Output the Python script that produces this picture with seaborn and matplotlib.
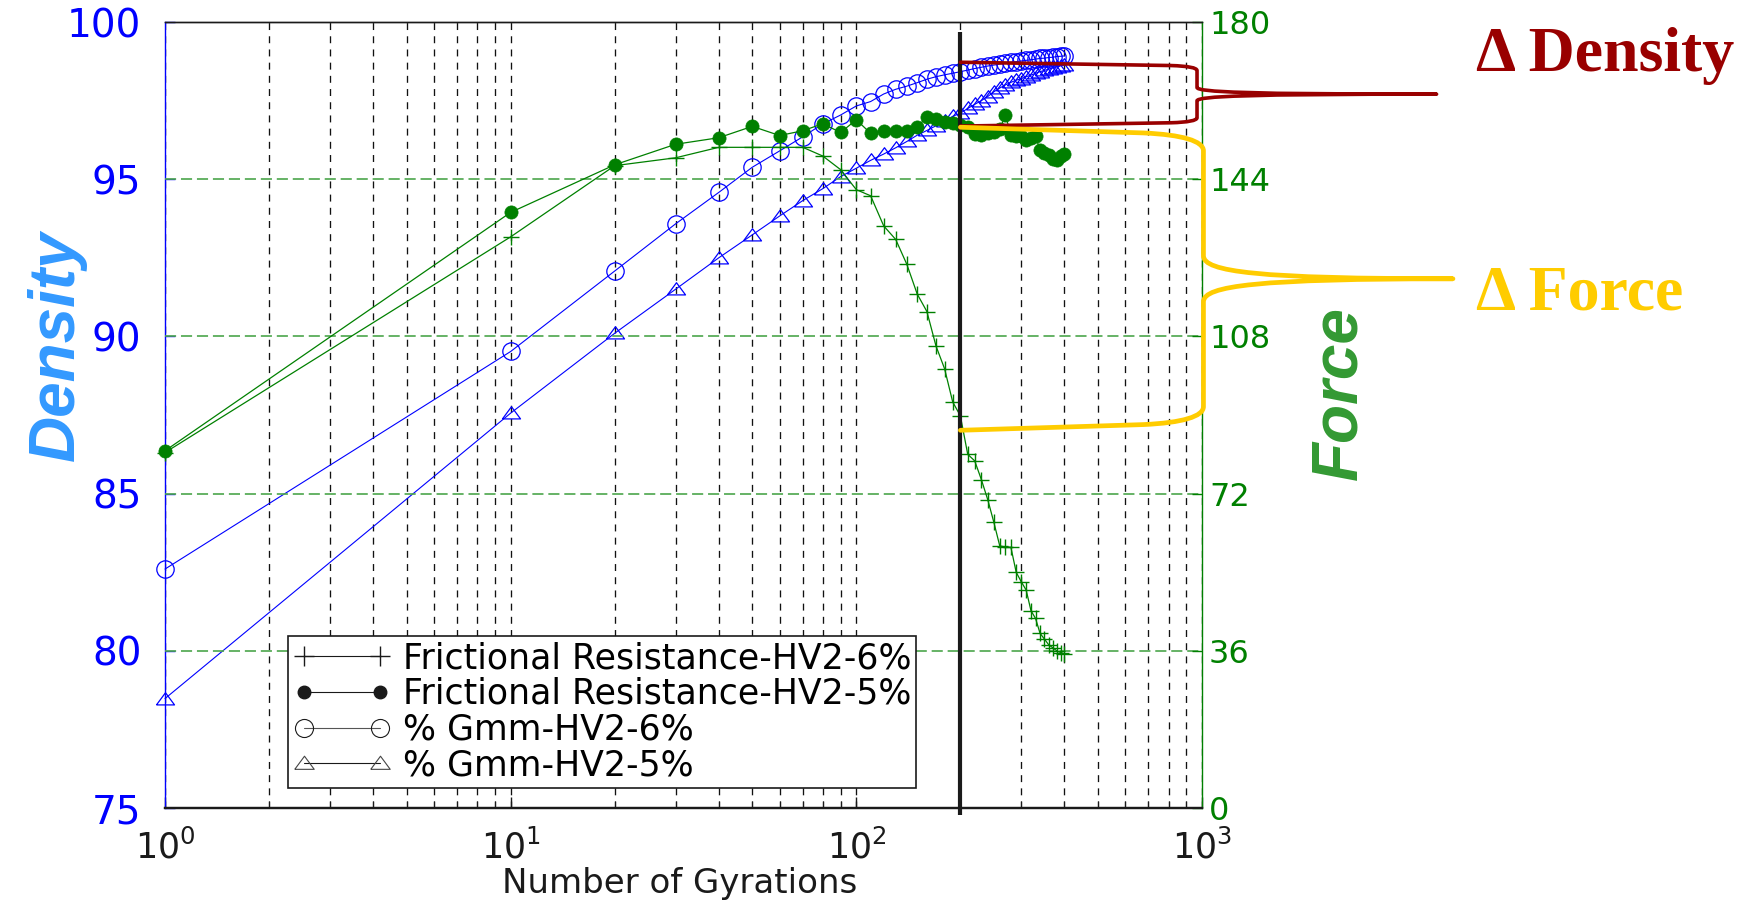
import matplotlib
matplotlib.use("Agg")
import numpy as np
import pandas as pd
import matplotlib.pyplot as plt
import seaborn as sns
from matplotlib.lines import Line2D
from matplotlib.path import Path
from matplotlib.patches import PathPatch
from matplotlib.ticker import FixedLocator, FuncFormatter, LogLocator, NullFormatter

# ---------------------------------------------------------------- data
gyrations = [1, 10, 20, 30, 40, 50, 60, 70, 80, 90, 100,
             110, 120, 130, 140, 150, 160, 170, 180, 190, 200,
             210, 220, 230, 240, 250, 260, 270, 280, 290, 300,
             310, 320, 330, 340, 350, 360, 370, 380, 390, 400]

# frictional resistance (force axis)
force_hv2_6 = [81.4, 130.8, 147.1, 148.9, 151.3, 151.3, 151.3, 151.3, 149.3, 146.2, 141.6,
               140.2, 133.3, 130.2, 124.5, 117.7, 113.7, 105.8, 100.6, 93.0, 89.8,
               81.0, 79.5, 75.2, 70.6, 65.4, 60.0, 59.8, 59.7, 54.0, 51.8,
               49.9, 45.2, 43.4, 40.0, 38.7, 37.4, 36.7, 36.0, 35.6, 35.3]
force_hv2_5 = [81.8, 136.4, 147.3, 152.0, 153.5, 156.1, 154.0, 155.1, 156.7, 154.7, 157.6,
               154.5, 155.1, 155.1, 155.1, 156.0, 158.2, 157.7, 157.2, 156.8, 156.4,
               155.9, 154.4, 154.2, 154.5, 154.9, 155.4, 158.7, 154.1, 153.8, 154.0,
               153.0, 153.4, 153.8, 150.7, 150.0, 149.5, 148.7, 148.4, 149.2, 149.7]

# % Gmm (density axis)
gmm_hv2_6 = [82.60, 89.52, 92.08, 93.58, 94.58, 95.38, 95.90, 96.35, 96.76, 97.04, 97.33,
             97.47, 97.71, 97.86, 97.96, 98.07, 98.18, 98.26, 98.32, 98.37, 98.42,
             98.47, 98.52, 98.56, 98.60, 98.63, 98.66, 98.69, 98.72, 98.74, 98.76,
             98.78, 98.80, 98.82, 98.84, 98.85, 98.87, 98.88, 98.90, 98.91, 98.92]
gmm_hv2_5 = [78.48, 87.56, 90.10, 91.50, 92.50, 93.23, 93.83, 94.32, 94.70, 95.08, 95.35,
             95.60, 95.80, 96.00, 96.20, 96.40, 96.55, 96.70, 96.85, 97.00, 97.10,
             97.25, 97.38, 97.50, 97.63, 97.78, 97.90, 98.00, 98.08, 98.15, 98.20,
             98.26, 98.31, 98.37, 98.42, 98.46, 98.50, 98.54, 98.58, 98.61, 98.64]

series_labels = ["Frictional Resistance-HV2-6%", "Frictional Resistance-HV2-5%",
                 "% Gmm-HV2-6%", "% Gmm-HV2-5%"]

density_ticks = [75, 80, 85, 90, 95, 100]
force_ticks = [0, 36, 72, 108, 144, 180]
gyration_ticks = [1, 10, 100, 1000]

reference_gyration = 200
reference_line_span = [74.78, 99.69]      # density units
delta_density = [96.69, 98.72]            # density units
delta_force = [86.5, 155.9]               # force units

df = pd.DataFrame({"gyrations": gyrations,
                   "fr6": force_hv2_6, "fr5": force_hv2_5,
                   "gmm6": gmm_hv2_6, "gmm5": gmm_hv2_5})

# ---------------------------------------------------------------- style
sns.set_theme(style="white")
plt.rcParams["font.family"] = ["DejaVu Sans"]
plt.rcParams["mathtext.default"] = "regular"
plt.rcParams["lines.scale_dashes"] = False
plt.rcParams["text.color"] = "black"
plt.rcParams["axes.labelcolor"] = "black"

GREEN = "#008000"
BLUE = "#0000FF"
tri = [(-1.0, -0.6), (1.0, -0.6), (0.0, 0.75), (-1.0, -0.6)]

fig = plt.figure(figsize=(17.5, 9), dpi=100)
ax = fig.add_axes([165 / 1750, 1 - 808 / 900, 1037 / 1750, 786 / 900])
ax.set_xscale("log")
ax2 = ax.twinx()

# density series
sns.lineplot(data=df, x="gyrations", y="gmm6", ax=ax, color=BLUE, lw=0.8,
             marker="o", markersize=12.5, markerfacecolor="none",
             markeredgecolor=BLUE, markeredgewidth=0.9,
             estimator=None, sort=False, legend=False, clip_on=False)
sns.lineplot(data=df, x="gyrations", y="gmm5", ax=ax, color=BLUE, lw=0.8,
             marker=tri, markersize=13, markerfacecolor="none",
             markeredgecolor=BLUE, markeredgewidth=0.9,
             estimator=None, sort=False, legend=False, clip_on=False)

# force series
sns.lineplot(data=df, x="gyrations", y="fr6", ax=ax2, color=GREEN, lw=0.9,
             marker="+", markersize=11, markeredgecolor=GREEN, markeredgewidth=1.0,
             estimator=None, sort=False, legend=False, clip_on=False)
sns.lineplot(data=df, x="gyrations", y="fr5", ax=ax2, color=GREEN, lw=0.9,
             marker="o", markersize=9.5, markerfacecolor=GREEN,
             markeredgecolor=GREEN, markeredgewidth=0.5,
             estimator=None, sort=False, legend=False, clip_on=False)

# ---------------------------------------------------------------- axes
ax.set_xlim(1, 1000)
ax.set_ylim(75, 100)
ax2.set_ylim(0, 180)
ax.set_yticks(density_ticks)
ax2.set_yticks(force_ticks)
ax.xaxis.set_major_locator(FixedLocator(gyration_ticks))
ax.xaxis.set_major_formatter(FuncFormatter(lambda v, p: r"$10^{%d}$" % round(np.log10(v))))
ax.xaxis.set_minor_locator(LogLocator(base=10, subs=range(2, 10)))
ax.xaxis.set_minor_formatter(NullFormatter())

ax.tick_params(axis="x", which="both", bottom=True, top=False, direction="in",
               colors="k", labelsize=25, pad=15)
ax.tick_params(axis="x", which="major", length=8, width=1)
ax.tick_params(axis="x", which="minor", length=5, width=0.8)
ax.tick_params(axis="y", left=True, right=False, direction="in", length=7, width=1,
               colors=BLUE, labelsize=28, pad=17)
ax2.tick_params(axis="y", right=True, left=False, direction="in", length=7, width=1,
                colors=GREEN, labelsize=23, pad=5)

ax.grid(True, which="both", axis="x", color="#111111", lw=0.95, ls=(0, (5, 4.5)))
ax.grid(False, axis="y")
ax2.grid(True, axis="y", color="#4CA64C", lw=1.2, ls=(0, (8, 3.5)))
ax2.grid(False, axis="x")

for a in (ax, ax2):
    for s in a.spines.values():
        s.set_linewidth(1.0)
ax.spines["left"].set_color(BLUE)
ax.spines["right"].set_visible(False)
ax.spines["top"].set_color("k")
ax.spines["bottom"].set_color("k")
ax.spines["bottom"].set_linewidth(1.6)
ax2.spines["left"].set_visible(False)
ax2.spines["right"].set_color(GREEN)
ax2.spines["top"].set_color("k")
ax2.spines["bottom"].set_color("k")
ax2.spines["bottom"].set_linewidth(1.6)

ax.set_xlabel("Number of Gyrations", fontsize=24.5, color="k")
ax.xaxis.label.set_va("baseline")
ax.xaxis.set_label_coords(0.4966, -(893 - 808) / 786)

ax.set_ylabel("Density", fontsize=46, color="#3399FF", fontweight="bold",
              fontstyle="italic", fontfamily="Liberation Sans")
ax.yaxis.label.set_va("center")
ax.yaxis.set_label_coords(-0.1041, 0.5878)

ax2.set_ylabel("Force", fontsize=46, color="#339933", fontweight="bold",
               fontstyle="italic", fontfamily="Liberation Sans", rotation=90)
ax2.yaxis.label.set_va("center")
ax2.yaxis.set_label_coords(1.1321, 0.528)

# vertical reference line at 200 gyrations
ax2.plot([reference_gyration, reference_gyration],
         [(v - 75) * 180 / 25 for v in reference_line_span],
         color="k", lw=3.0, zorder=6, clip_on=False, solid_capstyle="butt")

# ---------------------------------------------------------------- legend
handles = [
    Line2D([], [], color="k", lw=0.8, marker="+", markersize=14, markeredgewidth=1),
    Line2D([], [], color="k", lw=0.8, marker="o", markersize=9,
           markerfacecolor="k", markeredgecolor="k"),
    Line2D([], [], color="#555555", lw=0.8, marker="o", markersize=13,
           markerfacecolor="none", markeredgecolor="k", markeredgewidth=0.8),
    Line2D([], [], color="k", lw=0.8, marker=tri, markersize=14,
           markerfacecolor="none", markeredgecolor="#444444", markeredgewidth=0.8),
]
leg = ax2.legend(handles, series_labels, loc="upper left",
                 bbox_to_anchor=((288 - 165) / 1037, (808 - 636) / 786),
                 borderaxespad=0, numpoints=2, fontsize=25, handlelength=2.8,
                 handletextpad=0.35, labelspacing=0.05, borderpad=0.15,
                 frameon=True, fancybox=False, framealpha=1, edgecolor="k",
                 labelcolor="black")
leg.get_frame().set_linewidth(1.2)
leg.set_zorder(10)

# ---------------------------------------------------------------- delta braces
CURVE4, LINETO, MOVETO = Path.CURVE4, Path.LINETO, Path.MOVETO


def curly_brace(x_start, x_vert, x_tip, y_top, y_bot, drop, corner_w, corner_h,
                gap, color, lw):
    y_mid = 0.5 * (y_top + y_bot)
    reach = x_tip - x_vert
    verts = [
        (x_start, y_top),
        (x_vert - corner_w, y_top - drop),
        (x_vert - 0.35 * corner_w, y_top - drop - 0.1 * corner_h),
        (x_vert, y_top - drop - 0.45 * corner_h),
        (x_vert, y_top - drop - corner_h),
        (x_vert, y_mid + gap),
        (x_vert, y_mid + 0.3 * gap),
        (x_vert + 0.22 * reach, y_mid),
        (x_tip, y_mid),
        (x_vert + 0.22 * reach, y_mid),
        (x_vert, y_mid - 0.3 * gap),
        (x_vert, y_mid - gap),
        (x_vert, y_bot + drop + corner_h),
        (x_vert, y_bot + drop + 0.45 * corner_h),
        (x_vert - 0.35 * corner_w, y_bot + drop + 0.1 * corner_h),
        (x_vert - corner_w, y_bot + drop),
        (x_start, y_bot),
    ]
    codes = [MOVETO, LINETO, CURVE4, CURVE4, CURVE4, LINETO,
             CURVE4, CURVE4, CURVE4, CURVE4, CURVE4, CURVE4,
             LINETO, CURVE4, CURVE4, CURVE4, LINETO]
    patch = PathPatch(Path(verts, codes), facecolor="none", edgecolor=color,
                      lw=lw, transform=None, capstyle="round", joinstyle="round",
                      zorder=20)
    fig.add_artist(patch)


def ax_x(frac):
    return ax.transAxes.transform((frac, 0))[0]


xs_d, yb_d = ax.transData.transform((reference_gyration, delta_density[0]))
_, yt_d = ax.transData.transform((reference_gyration, delta_density[1]))
curly_brace(xs_d, ax_x(0.9952), ax_x(1.2262), yt_d, yb_d,
            drop=3.3, corner_w=26, corner_h=5, gap=6.7, color="#990000", lw=2.6)

xs_f, yb_f = ax2.transData.transform((reference_gyration, delta_force[0]))
_, yt_f = ax2.transData.transform((reference_gyration, delta_force[1]))
curly_brace(xs_f, ax_x(1.0014), ax_x(1.242), yt_f, yb_f,
            drop=5.7, corner_w=60, corner_h=18, gap=23, color="#FFCC00", lw=3.4)

fig.text(1475.6 / 1750, 1 - 70.7 / 900, "Δ Density", fontfamily="Liberation Serif",
         fontweight="bold", fontsize=46, color="#990000", ha="left", va="baseline")
fig.text(1475.6 / 1750, 1 - 310 / 900, "Δ Force", fontfamily="Liberation Serif",
         fontweight="bold", fontsize=46, color="#FFCC00", ha="left", va="baseline")

fig.savefig("out.png", dpi=100)
